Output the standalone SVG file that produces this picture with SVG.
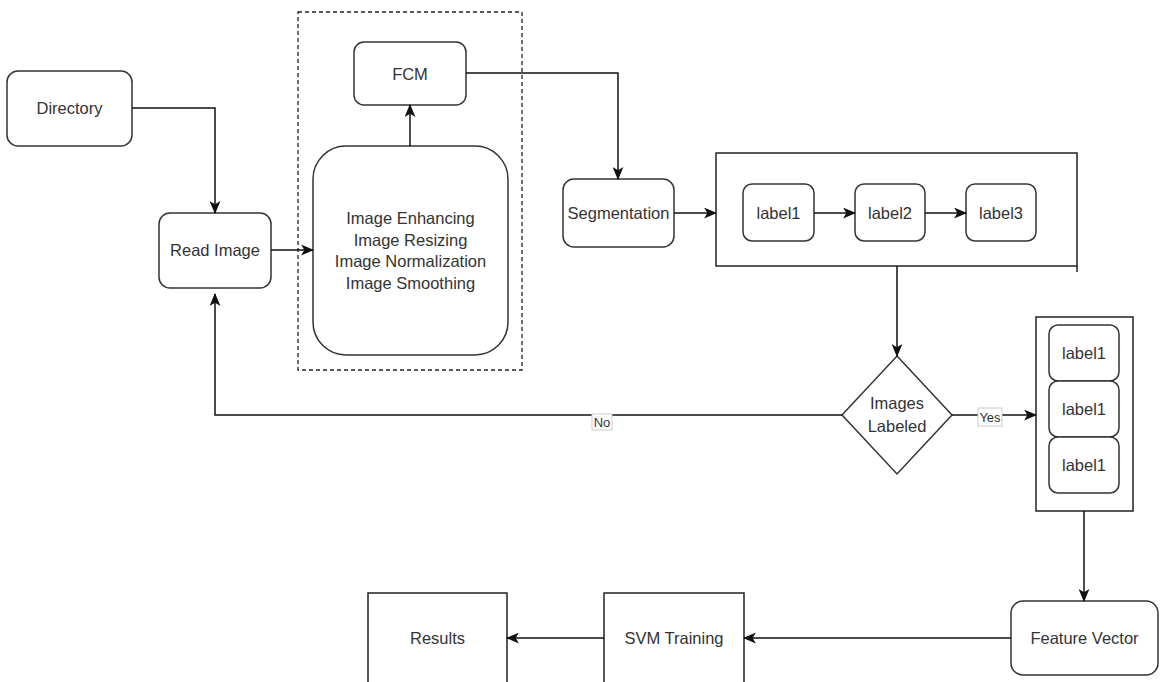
<svg xmlns="http://www.w3.org/2000/svg" width="1160" height="682" viewBox="0 0 1160 682">
<defs>
<style>
.n{fill:#fff;stroke:#333;stroke-width:1.5}
.c{fill:#fff;stroke:#222;stroke-width:1.5}
.t{font-family:Arial,"Liberation Sans",Helvetica,sans-serif;font-size:16.5px;fill:#333;text-anchor:middle;dominant-baseline:central}
.e{fill:none;stroke:#111;stroke-width:1.5}
.lb{font-family:Arial,"Liberation Sans",Helvetica,sans-serif;font-size:13px;fill:#333;text-anchor:middle;dominant-baseline:central}
.lbb{fill:#fff;stroke:#ccc;stroke-width:1}
</style>
<marker id="ah" viewBox="0 0 12 10" refX="11" refY="5" markerWidth="13" markerHeight="11" markerUnits="userSpaceOnUse" orient="auto">
<path d="M0,0 L12,5 L0,10 L3,5 Z" fill="#111"/>
</marker>
</defs>
<rect width="1160" height="682" fill="#fff"/>

<g id="group-preprocess">
<rect x="298" y="12" width="224" height="358" fill="none" stroke="#222" stroke-width="1.3" stroke-dasharray="4 3"/>
</g>

<g id="directory">
<rect class="n" x="7" y="71" width="125" height="75" rx="11"/>
<text class="t" x="69.5" y="108">Directory</text>
</g>
<g id="read-image">
<rect class="n" x="159" y="213" width="112" height="75" rx="11"/>
<text class="t" x="215" y="250">Read Image</text>
</g>
<g id="preprocessing">
<rect class="n" x="313" y="146" width="195" height="209" rx="33"/>
<text class="t" x="410.5" y="218">Image Enhancing</text>
<text class="t" x="410.5" y="239.5">Image Resizing</text>
<text class="t" x="410.5" y="261">Image Normalization</text>
<text class="t" x="410.5" y="282.5">Image Smoothing</text>
</g>
<g id="fcm">
<rect class="n" x="354" y="42" width="112" height="63" rx="10"/>
<text class="t" x="410" y="73.5">FCM</text>
</g>
<g id="segmentation">
<rect class="n" x="563" y="179" width="111" height="68" rx="11"/>
<text class="t" x="618.5" y="213">Segmentation</text>
</g>
<g id="labels-container">
<rect class="c" x="716" y="153" width="361" height="113"/>
<line x1="1077" y1="266" x2="1077" y2="272" stroke="#222" stroke-width="1.5"/>
</g>
<g id="label1">
<rect class="n" x="743" y="184" width="71" height="57" rx="9"/>
<text class="t" x="778.5" y="213">label1</text>
</g>
<g id="label2">
<rect class="n" x="855" y="184" width="70" height="57" rx="9"/>
<text class="t" x="890" y="213">label2</text>
</g>
<g id="label3">
<rect class="n" x="966" y="184" width="70" height="57" rx="9"/>
<text class="t" x="1001" y="213">label3</text>
</g>
<g id="images-labeled">
<polygon class="n" points="897,356 952,415 897,474 842,415"/>
<text class="t" x="897" y="403">Images</text>
<text class="t" x="897" y="426">Labeled</text>
</g>
<g id="stack-container">
<rect class="c" x="1036" y="317" width="97" height="194"/>
</g>
<g id="stack-label1-a">
<rect class="n" x="1049" y="325" width="70" height="56" rx="9"/>
<text class="t" x="1084" y="353">label1</text>
</g>
<g id="stack-label1-b">
<rect class="n" x="1049" y="381" width="70" height="56" rx="9"/>
<text class="t" x="1084" y="409">label1</text>
</g>
<g id="stack-label1-c">
<rect class="n" x="1049" y="437" width="70" height="56" rx="9"/>
<text class="t" x="1084" y="465">label1</text>
</g>
<g id="feature-vector">
<rect class="n" x="1011" y="601" width="147" height="74" rx="12"/>
<text class="t" x="1084.5" y="638">Feature Vector</text>
</g>
<g id="svm-training">
<rect class="c" x="604" y="593" width="140" height="110"/>
<text class="t" x="674" y="638">SVM Training</text>
</g>
<g id="results">
<rect class="c" x="368" y="593" width="139" height="110"/>
<text class="t" x="437.5" y="638">Results</text>
</g>

<g id="connectors">
<path class="e" d="M132,108 H215 V213" marker-end="url(#ah)"/>
<path class="e" d="M271,250 H313" marker-end="url(#ah)"/>
<path class="e" d="M410,146 V105" marker-end="url(#ah)"/>
<path class="e" d="M466,73 H618 V179" marker-end="url(#ah)"/>
<path class="e" d="M674,213 H716" marker-end="url(#ah)"/>
<path class="e" d="M814,213 H855" marker-end="url(#ah)"/>
<path class="e" d="M925,213 H966" marker-end="url(#ah)"/>
<path class="e" d="M897,266 V356" marker-end="url(#ah)"/>
<path class="e" d="M842,415 H215 V294" marker-end="url(#ah)"/>
<path class="e" d="M952,415 H1036" marker-end="url(#ah)"/>
<path class="e" d="M1084,511 V601" marker-end="url(#ah)"/>
<path class="e" d="M1011,638 H744" marker-end="url(#ah)"/>
<path class="e" d="M604,638 H507" marker-end="url(#ah)"/>
<rect class="lbb" x="592" y="414" width="20" height="16"/>
<text class="lb" x="602" y="422">No</text>
<rect class="lbb" x="978" y="408" width="24" height="18"/>
<text class="lb" x="990" y="417">Yes</text>
</g>
</svg>
